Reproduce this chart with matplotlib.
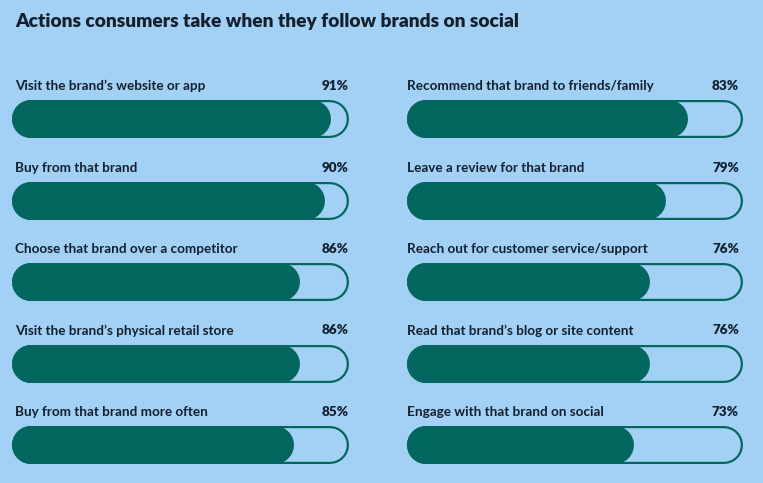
import matplotlib.pyplot as plt

plt.rcParams['font.family'] = ['Lato', 'DejaVu Sans']

title = 'Actions consumers take when they follow brands on social'
left_labels = ["Visit the brand’s website or app", 'Buy from that brand',
               'Choose that brand over a competitor',
               "Visit the brand’s physical retail store",
               'Buy from that brand more often']
left_values = [91, 90, 86, 86, 85]
right_labels = ['Recommend that brand to friends/family',
                'Leave a review for that brand',
                'Reach out for customer service/support',
                "Read that brand’s blog or site content",
                'Engage with that brand on social']
right_values = [83, 79, 76, 76, 73]

bg = '#a3d0f5'
teal = '#03665f'
ink = '#13202e'
W, H = 763, 483
dpi = 100

fig = plt.figure(figsize=(W / dpi, H / dpi), dpi=dpi, facecolor=bg)
fig.text(15 / W, 1 - 21.5 / H, title, fontsize=13.75, fontweight='heavy',
         color=ink, va='center', ha='left')

bar_px = 38
lw_out = bar_px * 72 / dpi
lw_in = (bar_px - 4.4) * 72 / dpi
row_gap = 81.5
first_center = 119

# column axes: pixel span of the line end points, value range, text offsets
columns = [
    (left_labels, left_values, 31, 330, 45.65, 93.9, -16, 19),
    (right_labels, right_values, 426, 724, 38.0, 93.2, -19, 15),
]

for labels, values, px0, px1, lo, hi, lab_off, pct_off in columns:
    top = first_center - 0.5 * row_gap
    ax = fig.add_axes([px0 / W, 1 - (top + 5 * row_gap) / H,
                       (px1 - px0) / W, 5 * row_gap / H])
    ax.set_xlim(lo, hi)
    ax.set_ylim(4.5, -0.5)
    ax.axis('off')
    for i, (lab, v) in enumerate(zip(labels, values)):
        ax.plot([lo, hi], [i, i], color=teal, lw=lw_out,
                solid_capstyle='round', clip_on=False)
        ax.plot([lo, hi], [i, i], color=bg, lw=lw_in,
                solid_capstyle='round', clip_on=False)
        ax.plot([lo, v], [i, i], color=teal, lw=lw_out,
                solid_capstyle='round', clip_on=False)
        ax.annotate(lab, (lo, i), xytext=(lab_off * 72 / dpi, 33 * 72 / dpi),
                    textcoords='offset points', ha='left', va='center',
                    fontsize=9.7, fontweight='bold', color=ink)
        ax.annotate(f'{v}%', (hi, i), xytext=(pct_off * 72 / dpi, 33 * 72 / dpi),
                    textcoords='offset points', ha='right', va='center',
                    fontsize=9.7, fontweight='heavy', color=ink)

fig.savefig('out.png', dpi=dpi, facecolor=bg)
